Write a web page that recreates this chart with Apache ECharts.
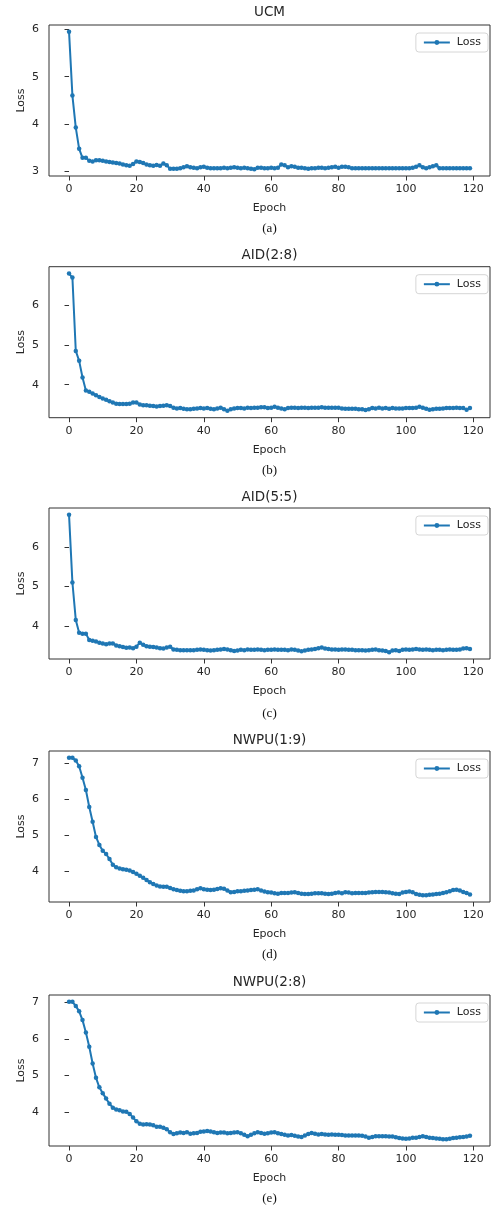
<!DOCTYPE html>
<html>
<head>
<meta charset="utf-8">
<script src="https://cdn.jsdelivr.net/npm/echarts@6/dist/echarts.min.js"></script>
<style>
html,body{margin:0;padding:0;background:#fff;}
#chart{width:499px;height:1209px;}
</style>
</head>
<body>
<div id="chart"></div>
<script>
// ---- data ----
const epochs = Array.from({length: 120}, (_, i) => i);
const panelTitles = ['UCM', 'AID(2:8)', 'AID(5:5)', 'NWPU(1:9)', 'NWPU(2:8)'];
const captions = ['(a)', '(b)', '(c)', '(d)', '(e)'];
const xTickValues = [0, 20, 40, 60, 80, 100, 120];
const yTickValues = [[3, 4, 5, 6], [4, 5, 6], [4, 5, 6], [4, 5, 6, 7], [4, 5, 6, 7]];

const lossUCM = [
  5.95, 4.6, 3.92, 3.47, 3.28, 3.28, 3.22, 3.2, 3.23, 3.23,
  3.22, 3.2, 3.19, 3.18, 3.17, 3.16, 3.14, 3.12, 3.11, 3.15,
  3.2, 3.19, 3.17, 3.14, 3.12, 3.11, 3.13, 3.11, 3.16, 3.12,
  3.05, 3.05, 3.05, 3.06, 3.08, 3.1, 3.08, 3.07, 3.06, 3.08,
  3.09, 3.07, 3.06, 3.06, 3.06, 3.06, 3.07, 3.06, 3.07, 3.08,
  3.07, 3.06, 3.07, 3.06, 3.05, 3.04, 3.07, 3.07, 3.06, 3.06,
  3.07, 3.06, 3.07, 3.14, 3.12, 3.08, 3.1, 3.09, 3.07, 3.07,
  3.06, 3.05, 3.06, 3.06, 3.07, 3.07, 3.06, 3.07, 3.08, 3.09,
  3.07, 3.09, 3.09, 3.08, 3.06, 3.06, 3.06, 3.06, 3.06, 3.06,
  3.06, 3.06, 3.06, 3.06, 3.06, 3.06, 3.06, 3.06, 3.06, 3.06,
  3.06, 3.06, 3.07, 3.09, 3.12, 3.08, 3.06, 3.08, 3.1, 3.12,
  3.06, 3.06, 3.06, 3.06, 3.06, 3.06, 3.06, 3.06, 3.06, 3.06
];
const lossAID28 = [
  6.8, 6.7, 4.85, 4.6, 4.18, 3.85, 3.82, 3.78, 3.73, 3.69,
  3.65, 3.62, 3.58, 3.55, 3.52, 3.51, 3.51, 3.51, 3.52, 3.55,
  3.55, 3.5, 3.48, 3.48, 3.47, 3.46, 3.45, 3.46, 3.47, 3.48,
  3.46, 3.42, 3.4, 3.41, 3.39, 3.38, 3.38, 3.39, 3.4, 3.41,
  3.4, 3.41, 3.39, 3.38, 3.4, 3.42, 3.38, 3.34, 3.38, 3.4,
  3.41, 3.41, 3.4, 3.42, 3.41, 3.42, 3.42, 3.43, 3.43, 3.41,
  3.42, 3.44, 3.42, 3.4, 3.38, 3.41, 3.42, 3.42, 3.41, 3.42,
  3.42, 3.41, 3.42, 3.42, 3.42, 3.43, 3.42, 3.42, 3.42, 3.42,
  3.42, 3.4, 3.39, 3.39, 3.39, 3.39, 3.38, 3.38, 3.36, 3.38,
  3.41, 3.4, 3.42, 3.4, 3.41, 3.39, 3.41, 3.4, 3.4, 3.4,
  3.41, 3.41, 3.41, 3.42, 3.44, 3.42, 3.39, 3.37, 3.38, 3.39,
  3.39, 3.4, 3.41, 3.41, 3.41, 3.42, 3.41, 3.41, 3.37, 3.41
];
const lossAID55 = [
  6.82, 5.1, 4.15, 3.82, 3.8, 3.8, 3.64, 3.62, 3.6, 3.57,
  3.55, 3.53, 3.55, 3.55, 3.5, 3.48, 3.46, 3.44, 3.45, 3.43,
  3.47, 3.57, 3.52, 3.48, 3.47, 3.46, 3.45, 3.43, 3.42, 3.45,
  3.47, 3.4, 3.39, 3.38, 3.38, 3.38, 3.38, 3.38, 3.39, 3.4,
  3.39, 3.38, 3.37, 3.38, 3.39, 3.4, 3.41, 3.4, 3.38, 3.36,
  3.37, 3.39, 3.38, 3.4, 3.39, 3.39, 3.4, 3.39, 3.38, 3.39,
  3.39, 3.4, 3.39, 3.39, 3.39, 3.38, 3.4, 3.39, 3.37, 3.35,
  3.37, 3.39, 3.4, 3.41, 3.43, 3.45, 3.42, 3.41, 3.4, 3.4,
  3.39, 3.4, 3.4, 3.39, 3.39, 3.38, 3.38, 3.38, 3.37, 3.38,
  3.39, 3.4, 3.38, 3.37, 3.36, 3.33, 3.37, 3.38, 3.36, 3.39,
  3.4, 3.39, 3.4, 3.41, 3.4, 3.39, 3.4, 3.39, 3.38, 3.39,
  3.39, 3.38, 3.39, 3.4, 3.39, 3.39, 3.4, 3.42, 3.43, 3.41
];
const lossNWPU19 = [
  7.14, 7.14, 7.07, 6.91, 6.59, 6.25, 5.78, 5.37, 4.95, 4.73,
  4.57, 4.48, 4.34, 4.18, 4.11, 4.08, 4.06, 4.04, 4.02, 3.98,
  3.93, 3.88, 3.82, 3.76, 3.7, 3.65, 3.61, 3.58, 3.57, 3.57,
  3.54, 3.5, 3.48, 3.46, 3.45, 3.45, 3.46, 3.47, 3.5, 3.53,
  3.5, 3.49, 3.48, 3.49, 3.51, 3.53, 3.52, 3.47, 3.42, 3.43,
  3.45, 3.45, 3.46, 3.47, 3.48, 3.49, 3.5, 3.47, 3.44, 3.42,
  3.41, 3.39, 3.38, 3.4, 3.4, 3.4, 3.41, 3.42, 3.4, 3.38,
  3.37, 3.37, 3.38, 3.39, 3.39, 3.39, 3.38, 3.37, 3.38, 3.4,
  3.41, 3.39, 3.42, 3.41, 3.39, 3.4, 3.4, 3.4, 3.4, 3.41,
  3.42, 3.43, 3.43, 3.43, 3.42, 3.41, 3.39, 3.38, 3.37, 3.41,
  3.43, 3.44, 3.42, 3.37, 3.35, 3.34, 3.34, 3.35, 3.36, 3.37,
  3.38, 3.4, 3.42, 3.45, 3.48, 3.49, 3.47, 3.43, 3.4, 3.36
];
const lossNWPU28 = [
  7.02, 7.02, 6.91, 6.76, 6.52, 6.18, 5.79, 5.33, 4.94, 4.68,
  4.52, 4.37, 4.23, 4.12, 4.07, 4.05, 4.02, 4.01, 3.95, 3.85,
  3.75, 3.68, 3.66, 3.67, 3.66, 3.64, 3.6, 3.6, 3.57, 3.53,
  3.45, 3.4, 3.42, 3.44, 3.43, 3.45, 3.41, 3.42, 3.43, 3.46,
  3.47, 3.48, 3.47, 3.45, 3.43, 3.44, 3.44, 3.42, 3.43, 3.44,
  3.45, 3.42, 3.38, 3.34, 3.38, 3.42, 3.45, 3.43, 3.41, 3.42,
  3.44, 3.45, 3.42, 3.4, 3.38, 3.36, 3.37, 3.35, 3.33, 3.32,
  3.36, 3.4, 3.43, 3.41, 3.39, 3.4, 3.39, 3.38, 3.39, 3.38,
  3.38, 3.37, 3.36, 3.36, 3.36, 3.36, 3.36, 3.35, 3.33, 3.3,
  3.32, 3.34, 3.34, 3.34, 3.34, 3.33, 3.33, 3.31, 3.29, 3.28,
  3.27, 3.28, 3.3, 3.3, 3.32, 3.34, 3.32, 3.3, 3.29, 3.28,
  3.27, 3.26, 3.26, 3.27, 3.29, 3.3, 3.31, 3.32, 3.33, 3.35
];
const seriesList = [lossUCM, lossAID28, lossAID55, lossNWPU19, lossNWPU28];

// ---- layout ----
const W = 499;
const plotLeft = 49, plotRight = 490;
const plotTops = [25, 266.7, 508, 751, 995];
const plotH = 151;
const titleY = [12, 255, 497.5, 740, 982.5];
const captionY = [229, 471, 714, 955, 1199];
const cx = (plotLeft + plotRight) / 2;
const lineColor = '#1f77b4';
const textColor = '#262626';
const font = 'DejaVu Sans';

const grids = [], xAxes = [], yAxes = [], series = [], legends = [], graphics = [];
seriesList.forEach((vals, i) => {
  grids.push({
    left: plotLeft, top: plotTops[i], width: plotRight - plotLeft, height: plotH,
    show: true, borderColor: '#333', borderWidth: 1, backgroundColor: 'transparent'
  });
  const nx = epochs.length - 1;
  xAxes.push({
    type: 'value', gridIndex: i,
    min: -0.05 * nx, max: nx * 1.05,
    name: 'Epoch', nameLocation: 'middle', nameGap: 27, nameMoveOverlap: false,
    nameTextStyle: {fontFamily: font, fontSize: 11, color: textColor},
    axisLine: {show: false},
    axisTick: {show: true, inside: false, length: 4.5, lineStyle: {color: '#333'}, customValues: xTickValues},
    axisLabel: {fontFamily: font, fontSize: 11, color: textColor, margin: 8, customValues: xTickValues},
    splitLine: {show: false}
  });
  const lo = Math.min(...vals), hi = Math.max(...vals), pad = (hi - lo) * 0.05;
  yAxes.push({
    type: 'value', gridIndex: i,
    min: lo - pad, max: hi + pad,
    name: 'Loss', nameLocation: 'middle', nameGap: 22, nameRotate: 90, nameMoveOverlap: false,
    nameTextStyle: {fontFamily: font, fontSize: 11, color: textColor},
    axisLine: {show: false},
    axisTick: {show: true, inside: false, length: 4.5, lineStyle: {color: '#333'}, customValues: yTickValues[i]},
    axisLabel: {fontFamily: font, fontSize: 11, color: textColor, margin: 10, customValues: yTickValues[i]},
    splitLine: {show: false}
  });
  series.push({
    type: 'line', name: 'Loss', xAxisIndex: i, yAxisIndex: i,
    data: epochs.map((e, k) => [e, vals[k]]),
    symbol: 'circle', symbolSize: 4.5, showSymbol: true,
    lineStyle: {color: lineColor, width: 2},
    itemStyle: {color: lineColor},
    animation: false
  });
  legends.push({
    data: ['Loss'], right: W - 488, top: plotTops[i] + 8,
    orient: 'vertical', itemWidth: 26, itemHeight: 6, itemGap: 4,
    padding: [4, 7, 4, 7],
    borderColor: '#d6d6d6', borderWidth: 1, borderRadius: 3,
    textStyle: {fontFamily: font, fontSize: 11, color: textColor, padding: [0, 0, 0, 2]},
    selectedMode: false
  });
  graphics.push({
    type: 'text', x: cx, y: titleY[i],
    style: {text: panelTitles[i], fontFamily: font, fontSize: 13.5, fill: textColor, textAlign: 'center', textVerticalAlign: 'middle'}
  });
  graphics.push({
    type: 'text', x: cx, y: captionY[i],
    style: {text: captions[i], fontFamily: 'Liberation Serif', fontSize: 13, fill: '#111', textAlign: 'center', textVerticalAlign: 'middle'}
  });
});

const chart = echarts.init(document.getElementById('chart'), null, {renderer: 'canvas'});
chart.setOption({
  animation: false,
  backgroundColor: '#fff',
  grid: grids, xAxis: xAxes, yAxis: yAxes, series: series, legend: legends,
  graphic: graphics
});
</script>
</body>
</html>
